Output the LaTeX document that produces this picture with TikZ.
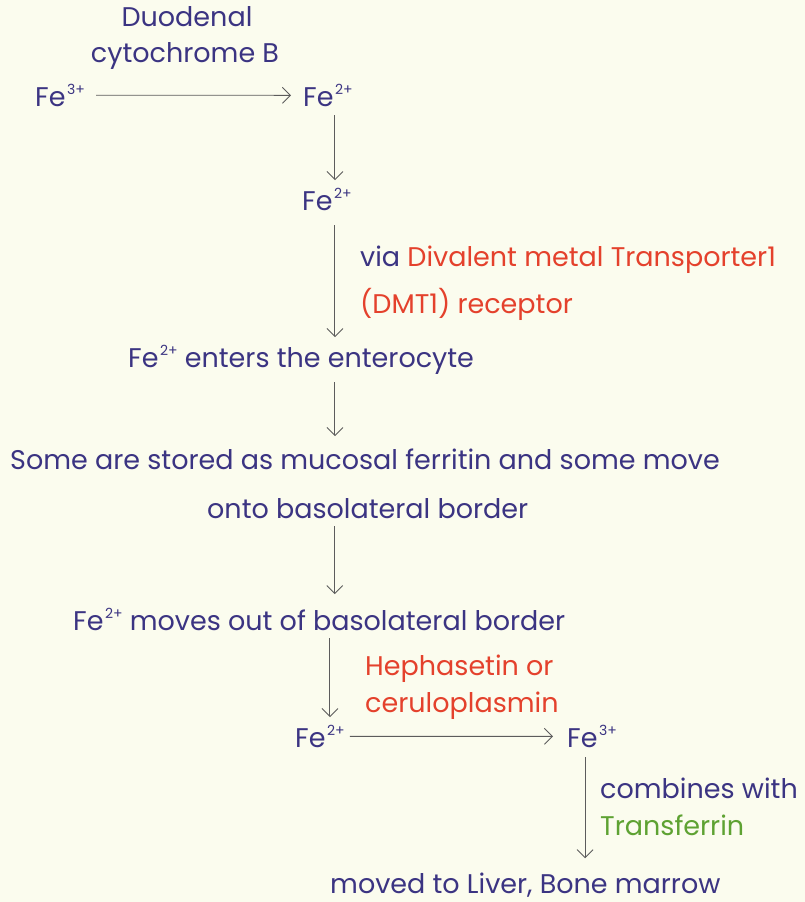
\documentclass[tikz,border=0pt]{standalone}
\usepackage{fontspec}
\setmainfont{Poppins}
\usetikzlibrary{arrows.meta}
\definecolor{paper}{HTML}{FBFCEE}
\definecolor{ink}{HTML}{3B3482}
\definecolor{redink}{HTML}{E4412C}
\definecolor{greenink}{HTML}{5EA232}
\definecolor{pencil}{HTML}{5C5C5C}
\newcommand{\Fe}[1]{Fe\kern1.5pt\raisebox{0.42em}{\fontsize{14}{14}\selectfont #1}}
\begin{document}
\begin{tikzpicture}[x=1pt,y=-1pt,
  txt/.style={text=ink, inner sep=0pt, anchor=base west, font=\fontsize{27}{32}\selectfont},
  red/.style={txt, text=redink},
  green/.style={txt, text=greenink},
  arr/.style={draw=pencil, line width=0.9pt, -{Straight Barb[length=8pt,width=16pt]}},
]
\fill[paper] (0,0) rectangle (805,902);
\useasboundingbox (0,0) rectangle (805,902);

% reduction in the duodenum
\node[txt, anchor=base] (duo) at (187,27) {Duodenal};
\node[txt, anchor=base] (cyt) at (185,62) {cytochrome B};
\node[txt] (feA) at (35,106) {\Fe{3+}};
\node[txt] (feB) at (303,106) {\Fe{2+}};
\node[txt] (feC) at (302,210) {\Fe{2+}};

% uptake via DMT1
\node[txt] (via) at (360,266) {via \textcolor{redink}{Divalent metal Transporter1}};
\node[red] (dmt) at (360,313) {(DMT1) receptor};
\node[txt] (ent) at (128,367) {\Fe{2+} enters the enterocyte};

% storage and export
\node[txt] (some) at (10,469) {Some are stored as mucosal ferritin and some move};
\node[txt] (onto) at (207,518) {onto basolateral border};
\node[txt] (out) at (73,630) {\Fe{2+} moves out of basolateral border};
\node[red] (heph) at (365,675) {Hephasetin or};
\node[red] (cer) at (365,712) {ceruloplasmin};
\node[txt] (feD) at (295,747) {\Fe{2+}};
\node[txt] (feE) at (567,747) {\Fe{3+}};

% transport in plasma
\node[txt] (comb) at (600,798) {combines with};
\node[green] (trans) at (600,835) {Transferrin};
\node[txt] (moved) at (330,893) {moved to Liver, Bone marrow};

% horizontal conversions
\draw[arr, shorten <=11pt, shorten >=12pt] (feA.east) -- (feB.west);
\draw[arr, shorten <=5pt, shorten >=14pt] (feD.east) -- (feE.west);

% vertical steps
\coordinate (c2) at ([xshift=7pt]feB.south);
\draw[arr, shorten <=9pt, shorten >=8pt] (c2) -- (c2 |- feC.north);
\coordinate (c3) at ([xshift=8pt]feC.south);
\draw[arr, shorten <=15pt, shorten >=8pt] (c3) -- (c3 |- ent.north);
\coordinate (c4) at (c3 |- ent.south);
\draw[arr, shorten <=8pt, shorten >=12pt] (c4) -- (c4 |- some.north);
\coordinate (c5) at ([xshift=-33pt]onto.south);
\draw[arr, shorten <=8pt, shorten >=14pt] (c5) -- (c5 |- out.north);
\coordinate (c6) at ([xshift=10pt]feD.north);
\draw[arr, shorten <=8pt, shorten >=8pt] (c6 |- out.south) -- (c6);
\coordinate (c8) at ([xshift=-7pt]feE.south);
\draw[arr, shorten <=10pt, shorten >=14pt] (c8) -- (c8 |- moved.north);
\end{tikzpicture}
\end{document}
